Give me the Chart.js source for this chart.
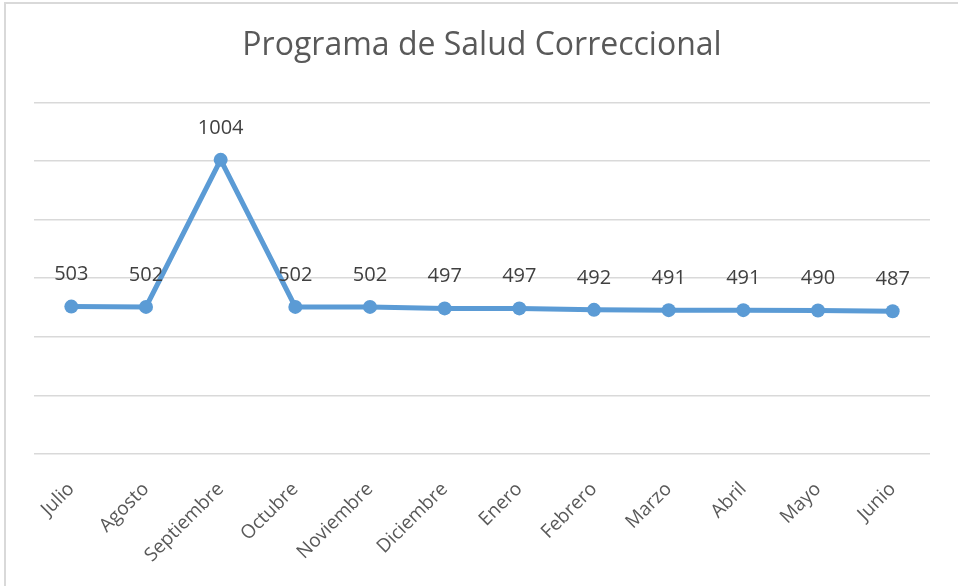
<!DOCTYPE html>
<html>
<head>
<meta charset="utf-8">
<script src="https://cdn.jsdelivr.net/npm/chart.js@4.4.1/dist/chart.umd.min.js"></script>
<style>
html,body{margin:0;padding:0;background:#fff;}
#wrap{width:958px;height:586px;position:relative;}
</style>
</head>
<body>
<div id="wrap"><canvas id="c" width="958" height="586"></canvas></div>
<script>
const categories = ["Julio","Agosto","Septiembre","Octubre","Noviembre","Diciembre","Enero","Febrero","Marzo","Abril","Mayo","Junio"];
const values = [503,502,1004,502,502,497,497,492,491,491,490,487];
const chartTitle = "Programa de Salud Correccional";

const FONT = "'Open Sans', sans-serif";

const borderPlugin = {
  id: 'frame',
  beforeDraw(chart) {
    const ctx = chart.ctx;
    ctx.save();
    ctx.fillStyle = '#fff';
    ctx.fillRect(0, 0, chart.width, chart.height);
    ctx.strokeStyle = '#d9d9d9';
    ctx.lineWidth = 2;
    ctx.beginPath();
    ctx.moveTo(5, chart.height + 5);
    ctx.lineTo(5, 3);
    ctx.lineTo(chart.width + 5, 3);
    ctx.stroke();
    ctx.restore();
  }
};

const labelPlugin = {
  id: 'vals',
  afterDatasetsDraw(chart) {
    const ctx = chart.ctx;
    const meta = chart.getDatasetMeta(0);
    ctx.save();
    ctx.font = "20px " + FONT;
    ctx.fillStyle = '#404040';
    ctx.textAlign = 'center';
    ctx.textBaseline = 'middle';
    meta.data.forEach((pt, i) => {
      ctx.fillText(String(chart.data.datasets[0].data[i]), pt.x, pt.y - 32);
    });
    ctx.restore();
  }
};

new Chart(document.getElementById('c'), {
  type: 'line',
  data: {
    labels: categories,
    datasets: [{
      data: values,
      borderColor: '#5B9BD5',
      backgroundColor: '#5B9BD5',
      borderWidth: 5,
      pointRadius: 7,
      pointHoverRadius: 7,
      pointBackgroundColor: '#5B9BD5',
      pointBorderWidth: 0,
      tension: 0,
      fill: false
    }]
  },
  options: {
    responsive: false,
    animation: false,
    devicePixelRatio: 1,
    layout: { padding: { left: 34, right: 28, top: 0, bottom: 0 } },
    plugins: {
      legend: { display: false },
      tooltip: { enabled: false },
      title: {
        display: true,
        text: chartTitle,
        color: '#595959',
        font: { family: FONT, size: 32, weight: 'normal' },
        padding: { top: 27, bottom: 37 }
      }
    },
    scales: {
      x: {
        offset: true,
        grid: { display: false },
        border: { display: false },
        ticks: {
          color: '#595959',
          font: { family: FONT, size: 19 },
          maxRotation: 45,
          minRotation: 45,
          autoSkip: false,
          padding: 16
        },
        afterFit(scale) { scale.height = 132; }
      },
      y: {
        min: 0,
        max: 1200,
        ticks: { display: false, stepSize: 200 },
        border: { display: false },
        grid: { color: '#d9d9d9', lineWidth: 1.5, drawTicks: false }
      }
    }
  },
  plugins: [borderPlugin, labelPlugin]
});
</script>
</body>
</html>
